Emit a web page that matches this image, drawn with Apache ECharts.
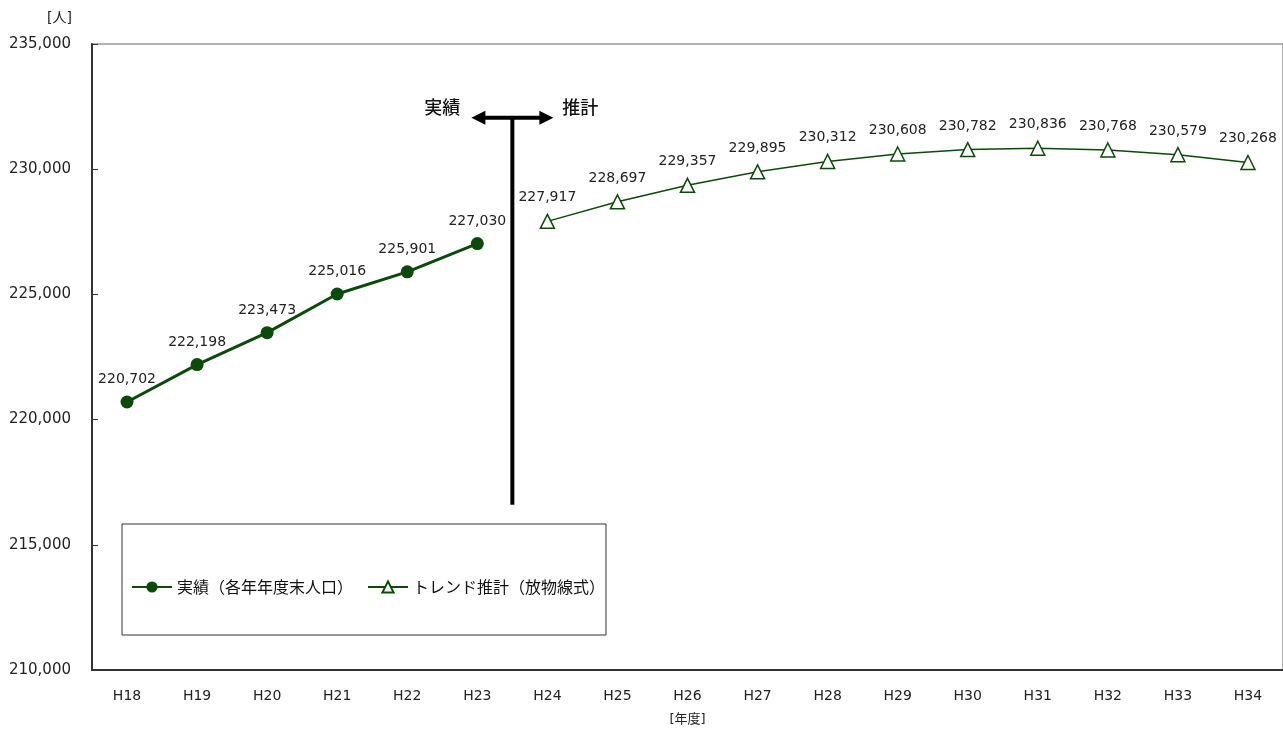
<!DOCTYPE html>
<html>
<head>
<meta charset="utf-8">
<script src="https://cdn.jsdelivr.net/npm/echarts@6/dist/echarts.min.js"></script>
<style>
  html, body { margin: 0; padding: 0; background: #fff; }
  #main { width: 1283px; height: 731px; }
</style>
</head>
<body>
<div id="main"></div>
<script>
// 年度
var categories = ['H18','H19','H20','H21','H22','H23','H24','H25','H26','H27','H28','H29','H30','H31','H32','H33','H34'];
// 実績（各年年度末人口）
var actual = [220702, 222198, 223473, 225016, 225901, 227030, null, null, null, null, null, null, null, null, null, null, null];
// トレンド推計（放物線式）
var trend = [null, null, null, null, null, null, 227917, 228697, 229357, 229895, 230312, 230608, 230782, 230836, 230768, 230579, 230268];
var yTicks = { min: 210000, max: 235000, interval: 5000 };

var green = '#0b4a0b';
var font = '"DejaVu Sans", "Noto Sans CJK JP", sans-serif';
var cjk = '"Noto Sans CJK JP", sans-serif';

var chart = echarts.init(document.getElementById('main'));

var option = {
    backgroundColor: '#fff',
    animation: false,
    textStyle: { fontFamily: font },
    grid: {
        left: 92, top: 44, width: 1193, height: 626,
        show: true, borderColor: '#999', borderWidth: 1.5
    },
    legend: {
        left: 126, top: 574,
        itemWidth: 40, itemHeight: 14, itemGap: 14,
        textStyle: { fontSize: 16, color: '#111', fontFamily: cjk },
        data: ['実績（各年年度末人口）', 'トレンド推計（放物線式）']
    },
    xAxis: {
        type: 'category',
        data: categories,
        boundaryGap: true,
        name: '[年度]',
        nameLocation: 'middle',
        nameGap: 43,
        nameTextStyle: { fontSize: 13, color: '#222' },
        axisLine: { lineStyle: { color: '#333', width: 2 } },
        axisTick: { inside: true, length: 6, lineStyle: { color: '#333' } },
        axisLabel: { fontSize: 14, color: '#222', margin: 19 }
    },
    yAxis: {
        type: 'value',
        min: yTicks.min, max: yTicks.max, interval: yTicks.interval,
        name: '[人]',
        nameLocation: 'end',
        nameGap: 19,
        nameTextStyle: { fontSize: 14, color: '#222', align: 'right', padding: [0, 20, 0, 0] },
        axisLine: { show: true, lineStyle: { color: '#333', width: 2 } },
        axisTick: { show: true, inside: true, length: 6, lineStyle: { color: '#333' } },
        splitLine: { show: false },
        axisLabel: {
            fontSize: 15, color: '#222', margin: 21,
            formatter: function (v) { return v.toLocaleString('en-US'); }
        }
    },
    series: [
        {
            name: '実績（各年年度末人口）',
            type: 'line',
            data: actual,
            symbol: 'circle',
            symbolSize: 13,
            itemStyle: { color: green },
            lineStyle: { color: green, width: 3 },
            label: {
                show: true, position: 'top', distance: 9,
                fontSize: 14, color: '#222',
                formatter: function (p) { return p.value.toLocaleString('en-US'); }
            }
        },
        {
            name: 'トレンド推計（放物線式）',
            type: 'line',
            data: trend,
            symbol: 'triangle',
            symbolSize: 14,
            itemStyle: { color: '#fff', borderColor: green, borderWidth: 1.5 },
            lineStyle: { color: green, width: 1.5 },
            label: {
                show: true, position: 'top', distance: 9,
                fontSize: 14, color: '#222',
                formatter: function (p) { return p.value.toLocaleString('en-US'); }
            }
        }
    ]
};

chart.setOption(option);

// 実績／推計の区切り線と矢印
var xa = chart.convertToPixel({ xAxisIndex: 0 }, 'H23');
var xb = chart.convertToPixel({ xAxisIndex: 0 }, 'H24');
var xm = (xa + xb) / 2;
var yTop = chart.convertToPixel({ yAxisIndex: 0 }, 232050);
var yBot = chart.convertToPixel({ yAxisIndex: 0 }, 216600);

chart.setOption({
    graphic: [
        // 凡例の枠
        { type: 'rect', shape: { x: 122, y: 524, width: 484, height: 111 },
          style: { fill: 'none', stroke: '#333', lineWidth: 1 }, z: 1 },
        // 区切り線
        { type: 'line', shape: { x1: xm, y1: yTop, x2: xm, y2: yBot },
          style: { stroke: '#000', lineWidth: 4 }, z: 10 },
        { type: 'line', shape: { x1: xm - 30, y1: yTop, x2: xm + 30, y2: yTop },
          style: { stroke: '#000', lineWidth: 4 }, z: 10 },
        { type: 'polygon', shape: { points: [[xm - 41, yTop], [xm - 27, yTop - 7], [xm - 27, yTop + 7]] },
          style: { fill: '#000' }, z: 10 },
        { type: 'polygon', shape: { points: [[xm + 41, yTop], [xm + 27, yTop - 7], [xm + 27, yTop + 7]] },
          style: { fill: '#000' }, z: 10 },
        { type: 'text', x: xm - 52, y: yTop - 11,
          style: { text: '実績', font: '500 18px ' + cjk, fill: '#111', textAlign: 'right', textVerticalAlign: 'middle' }, z: 10 },
        { type: 'text', x: xm + 50, y: yTop - 11,
          style: { text: '推計', font: '500 18px ' + cjk, fill: '#111', textAlign: 'left', textVerticalAlign: 'middle' }, z: 10 }
    ]
});
</script>
</body>
</html>
